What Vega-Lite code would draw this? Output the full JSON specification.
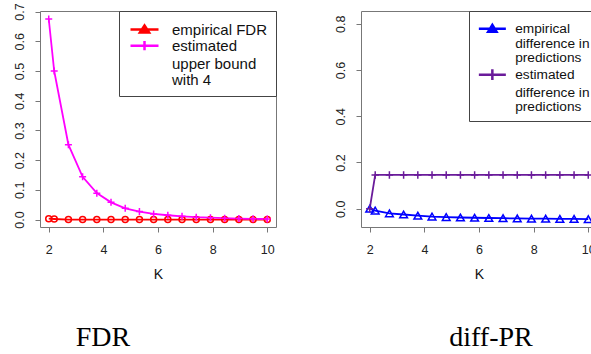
{
  "$schema": "https://vega.github.io/schema/vega-lite/v6.json",
  "background": "white",
  "padding": {"left": 12, "top": 2, "right": 0, "bottom": 0},
  "datasets": {
    "fdr": [
      {"series": "empirical FDR", "K": 2, "value": 0.003},
      {"series": "empirical FDR", "K": 2.2, "value": 0.002},
      {"series": "empirical FDR", "K": 2.72, "value": 0},
      {"series": "empirical FDR", "K": 3.24, "value": 0},
      {"series": "empirical FDR", "K": 3.76, "value": 0},
      {"series": "empirical FDR", "K": 4.28, "value": 0},
      {"series": "empirical FDR", "K": 4.8, "value": 0},
      {"series": "empirical FDR", "K": 5.32, "value": 0},
      {"series": "empirical FDR", "K": 5.84, "value": 0},
      {"series": "empirical FDR", "K": 6.36, "value": 0},
      {"series": "empirical FDR", "K": 6.88, "value": 0},
      {"series": "empirical FDR", "K": 7.4, "value": 0},
      {"series": "empirical FDR", "K": 7.92, "value": 0},
      {"series": "empirical FDR", "K": 8.44, "value": 0},
      {"series": "empirical FDR", "K": 8.96, "value": 0},
      {"series": "empirical FDR", "K": 9.48, "value": 0},
      {"series": "empirical FDR", "K": 10, "value": 0},
      {"series": "estimated", "K": 2, "value": 0.675},
      {"series": "estimated", "K": 2.2, "value": 0.5},
      {"series": "estimated", "K": 2.72, "value": 0.252},
      {"series": "estimated", "K": 3.24, "value": 0.144},
      {"series": "estimated", "K": 3.76, "value": 0.089},
      {"series": "estimated", "K": 4.28, "value": 0.058},
      {"series": "estimated", "K": 4.8, "value": 0.038},
      {"series": "estimated", "K": 5.32, "value": 0.027},
      {"series": "estimated", "K": 5.84, "value": 0.019},
      {"series": "estimated", "K": 6.36, "value": 0.0145},
      {"series": "estimated", "K": 6.88, "value": 0.011},
      {"series": "estimated", "K": 7.4, "value": 0.008},
      {"series": "estimated", "K": 7.92, "value": 0.0065},
      {"series": "estimated", "K": 8.44, "value": 0.0048},
      {"series": "estimated", "K": 8.96, "value": 0.0035},
      {"series": "estimated", "K": 9.48, "value": 0.0025},
      {"series": "estimated", "K": 10, "value": 0.002}
    ],
    "diff": [
      {"series": "empirical", "K": 2, "value": 0.0},
      {"series": "empirical", "K": 2.2, "value": -0.008},
      {"series": "empirical", "K": 2.72, "value": -0.02},
      {"series": "empirical", "K": 3.24, "value": -0.025},
      {"series": "empirical", "K": 3.76, "value": -0.03},
      {"series": "empirical", "K": 4.28, "value": -0.034},
      {"series": "empirical", "K": 4.8, "value": -0.036},
      {"series": "empirical", "K": 5.32, "value": -0.038},
      {"series": "empirical", "K": 5.84, "value": -0.039},
      {"series": "empirical", "K": 6.36, "value": -0.04},
      {"series": "empirical", "K": 6.88, "value": -0.041},
      {"series": "empirical", "K": 7.4, "value": -0.042},
      {"series": "empirical", "K": 7.92, "value": -0.043},
      {"series": "empirical", "K": 8.44, "value": -0.043},
      {"series": "empirical", "K": 8.96, "value": -0.044},
      {"series": "empirical", "K": 9.48, "value": -0.044},
      {"series": "empirical", "K": 10, "value": -0.045},
      {"series": "estimated", "K": 2, "value": 0.0},
      {"series": "estimated", "K": 2.2, "value": 0.146},
      {"series": "estimated", "K": 2.72, "value": 0.146},
      {"series": "estimated", "K": 3.24, "value": 0.146},
      {"series": "estimated", "K": 3.76, "value": 0.146},
      {"series": "estimated", "K": 4.28, "value": 0.146},
      {"series": "estimated", "K": 4.8, "value": 0.146},
      {"series": "estimated", "K": 5.32, "value": 0.146},
      {"series": "estimated", "K": 5.84, "value": 0.146},
      {"series": "estimated", "K": 6.36, "value": 0.146},
      {"series": "estimated", "K": 6.88, "value": 0.146},
      {"series": "estimated", "K": 7.4, "value": 0.146},
      {"series": "estimated", "K": 7.92, "value": 0.146},
      {"series": "estimated", "K": 8.44, "value": 0.146},
      {"series": "estimated", "K": 8.96, "value": 0.146},
      {"series": "estimated", "K": 9.48, "value": 0.146},
      {"series": "estimated", "K": 10, "value": 0.146}
    ]
  },
  "spacing": 85,
  "bounds": "flush",
  "resolve": {"scale": {"color": "independent", "shape": "independent"}, "legend": {"color": "independent", "shape": "independent"}},
  "hconcat": [
    {
      "width": 236,
      "height": 216,
      "title": {"text": "FDR", "orient": "bottom", "anchor": "middle", "frame": "group", "dx": -55, "offset": 42, "font": "Liberation Serif", "fontSize": 28, "fontWeight": "normal", "color": "#000000"},
      "data": {"name": "fdr"},
      "encoding": {
        "x": {"field": "K", "type": "quantitative", "scale": {"domain": [1.68, 10.32], "nice": false, "zero": false},
              "axis": {"values": [2, 4, 6, 8, 10], "title": "K", "labelPadding": 11, "titlePadding": 12, "labelFlush": false}},
        "y": {"field": "value", "type": "quantitative", "scale": {"domain": [-0.025, 0.702], "nice": false, "zero": false},
              "axis": {"values": [0, 0.1, 0.2, 0.3, 0.4, 0.5, 0.6, 0.7], "format": ".1f", "title": null, "labelAngle": -90, "labelAlign": "center", "labelBaseline": "bottom", "labelPadding": 9}}
      },
      "layer": [
        {"transform": [{"filter": "datum.series == 'empirical FDR'"}],
         "mark": {"type": "line", "strokeWidth": 1.8, "opacity": 1, "color": "#ff0000"}, "encoding": {}},
        {"transform": [{"filter": "datum.series == 'estimated'"}],
         "mark": {"type": "line", "strokeWidth": 1.8, "opacity": 1, "color": "#ff00ff"}, "encoding": {}},
        {"transform": [{"filter": "datum.series == 'empirical FDR'"}],
         "mark": {"type": "point", "shape": "circle", "filled": false, "size": 36, "strokeWidth": 1.5, "opacity": 1, "color": "#ff0000"},
         "encoding": {}},
        {"transform": [{"filter": "datum.series == 'estimated'"}],
         "mark": {"type": "point", "shape": "M-1,0H1M0,-1V1", "filled": false, "size": 49, "strokeWidth": 1.5, "opacity": 1, "color": "#ff00ff"},
         "encoding": {}},
        {"mark": {"type": "point", "filled": false, "size": 0, "strokeWidth": 2.5, "opacity": 1},
         "encoding": {
           "color": {"field": "series", "type": "nominal", "scale": {"domain": ["empirical FDR", "estimated", "upper bound", "with 4"], "range": ["#ff0000", "#ff00ff", "#ffffff", "#ffffff"]},
                     "legend": {"orient": "top-right", "offset": 0, "title": " ", "titleFontSize": 2, "titlePadding": 1, "padding": 8, "strokeColor": "#444444", "fillColor": "white", "cornerRadius": 0, "labelFont": "Liberation Sans", "labelFontSize": 15, "labelColor": "#111111", "labelLimit": 300, "labelOffset": 20, "symbolOffset": 10, "symbolSize": 64, "symbolStrokeWidth": 2.5, "rowPadding": -2.8}},
           "shape": {"field": "series", "type": "nominal", "scale": {"domain": ["empirical FDR", "estimated", "upper bound", "with 4"], "range": ["M-3.5,0H3.5M0,-1.0L1.15,0.75L-1.15,0.75ZM0,-0.42L0.48,0.32L-0.48,0.32Z", "M-3.5,0H3.5M0,-1.15V1.15", "M0,0", "M0,0"]},
                     "legend": {"orient": "top-right", "offset": 0, "title": " ", "titleFontSize": 2, "titlePadding": 1, "padding": 8, "strokeColor": "#444444", "fillColor": "white", "cornerRadius": 0, "labelFont": "Liberation Sans", "labelFontSize": 15, "labelColor": "#111111", "labelLimit": 300, "labelOffset": 20, "symbolOffset": 10, "symbolSize": 64, "symbolStrokeWidth": 2.5, "rowPadding": -2.8}}
         }}
      ]
    },
    {
      "width": 236,
      "height": 216,
      "title": {"text": "diff-PR", "orient": "bottom", "anchor": "middle", "frame": "group", "dx": 12, "offset": 42, "font": "Liberation Serif", "fontSize": 28, "fontWeight": "normal", "color": "#000000"},
      "data": {"name": "diff"},
      "encoding": {
        "x": {"field": "K", "type": "quantitative", "scale": {"domain": [1.68, 10.32], "nice": false, "zero": false},
              "axis": {"values": [2, 4, 6, 8, 10], "title": "K", "labelPadding": 11, "titlePadding": 12, "labelFlush": false}},
        "y": {"field": "value", "type": "quantitative", "scale": {"domain": [-0.079, 0.855], "nice": false, "zero": false},
              "axis": {"values": [0, 0.2, 0.4, 0.6, 0.8], "format": ".1f", "title": null, "labelAngle": -90, "labelAlign": "center", "labelBaseline": "bottom", "labelPadding": 9}}
      },
      "layer": [
        {"transform": [{"filter": "datum.series == 'empirical'"}],
         "mark": {"type": "line", "strokeWidth": 1.8, "opacity": 1, "color": "#0000ff"}, "encoding": {}},
        {"transform": [{"filter": "datum.series == 'estimated'"}],
         "mark": {"type": "line", "strokeWidth": 1.8, "opacity": 1, "color": "#6a1b9a"}, "encoding": {}},
        {"transform": [{"filter": "datum.series == 'empirical'"}],
         "mark": {"type": "point", "shape": "triangle-up", "filled": false, "size": 60, "strokeWidth": 1.5, "opacity": 1, "color": "#0000ff"},
         "encoding": {}},
        {"transform": [{"filter": "datum.series == 'estimated'"}],
         "mark": {"type": "point", "shape": "M-1,0H1M0,-1V1", "filled": false, "size": 55, "strokeWidth": 1.5, "opacity": 1, "color": "#6a1b9a"},
         "encoding": {}},
        {"mark": {"type": "point", "filled": false, "size": 0, "strokeWidth": 2.5, "opacity": 1},
         "encoding": {
           "color": {"field": "series", "type": "nominal", "scale": {"domain": ["empirical", "difference in", "predictions", "estimated", "difference in ", "predictions "], "range": ["#0000ff", "#ffffff", "#ffffff", "#6a1b9a", "#ffffff", "#ffffff"]},
                     "legend": {"orient": "top-right", "offset": 0, "title": " ", "titleFontSize": 2, "titlePadding": 2, "padding": 7, "strokeColor": "#444444", "fillColor": "white", "cornerRadius": 0, "labelFont": "Liberation Sans", "labelFontSize": 13.7, "labelColor": "#111111", "labelLimit": 300, "labelOffset": 16, "symbolOffset": 9.5, "symbolSize": 64, "symbolStrokeWidth": 2.5, "rowPadding": -1.2}},
           "shape": {"field": "series", "type": "nominal", "scale": {"domain": ["empirical", "difference in", "predictions", "estimated", "difference in ", "predictions "], "range": ["M-3.375,0H3.375M0,-1.0L1.05,0.75L-1.05,0.75ZM0,-0.42L0.44,0.32L-0.44,0.32Z", "M0,0", "M0,0", "M-3.375,0H3.375M0,-1.35V1.35", "M0,0", "M0,0"]},
                     "legend": {"orient": "top-right", "offset": 0, "title": " ", "titleFontSize": 2, "titlePadding": 2, "padding": 7, "strokeColor": "#444444", "fillColor": "white", "cornerRadius": 0, "labelFont": "Liberation Sans", "labelFontSize": 13.7, "labelColor": "#111111", "labelLimit": 300, "labelOffset": 16, "symbolOffset": 9.5, "symbolSize": 64, "symbolStrokeWidth": 2.5, "rowPadding": -1.2}}
         }}
      ]
    }
  ],
  "config": {
    "view": {"stroke": "#777777", "strokeWidth": 1},
    "axis": {"domain": false, "grid": false, "tickColor": "#777777", "tickSize": 5, "tickWidth": 1, "labelFont": "Liberation Sans", "labelFontSize": 12.5, "labelColor": "#222222", "titleFont": "Liberation Sans", "titleFontSize": 14, "titleFontWeight": "normal", "titleColor": "#111111"}
  }
}
